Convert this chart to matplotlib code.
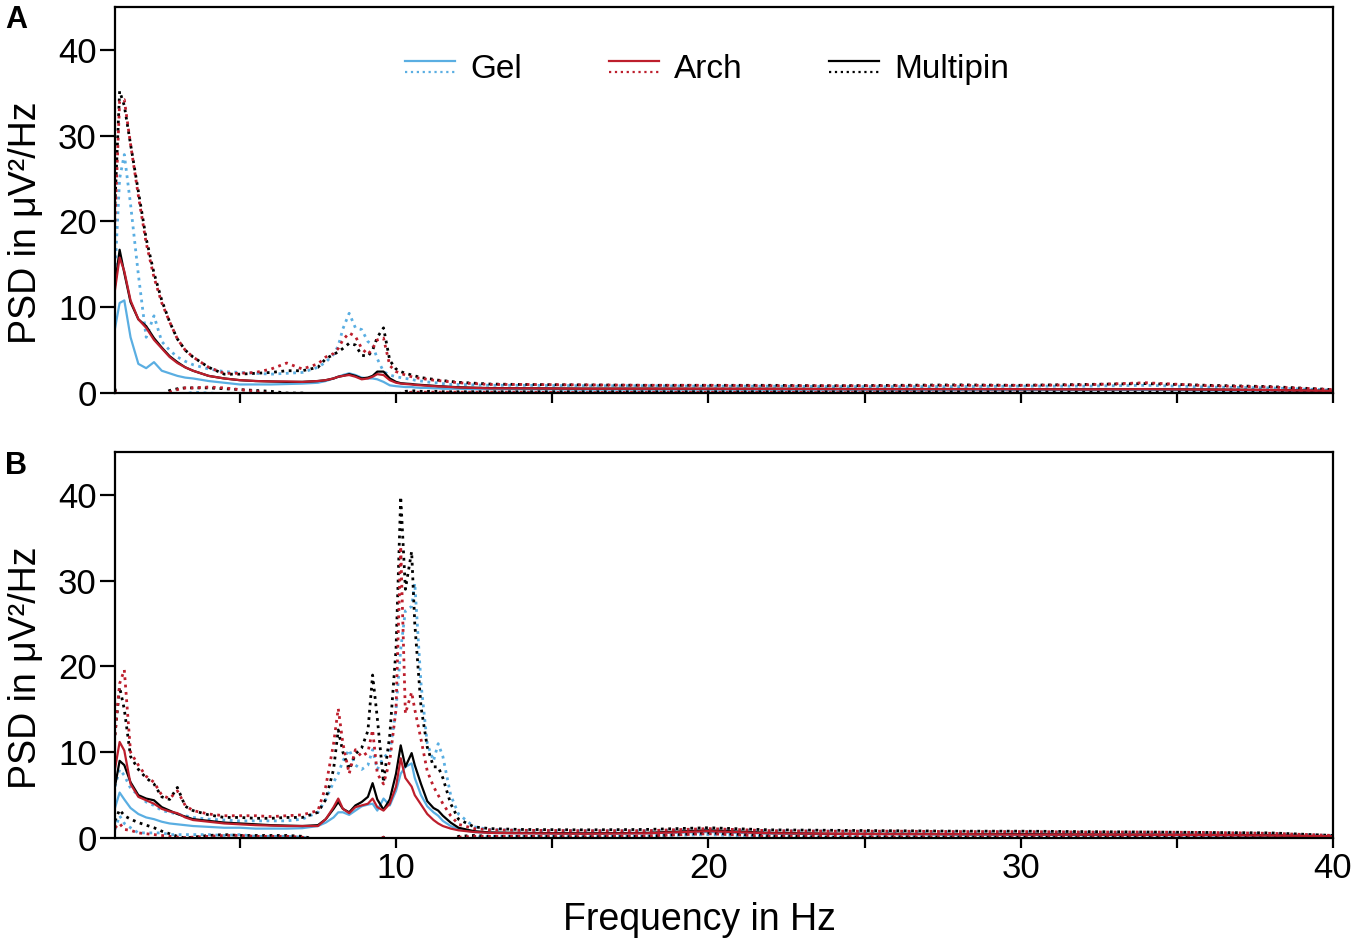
import matplotlib
matplotlib.use('Agg')
import matplotlib.pyplot as plt
from matplotlib.legend_handler import HandlerBase
from matplotlib.lines import Line2D

plt.rcParams['font.family'] = ['Liberation Sans', 'DejaVu Sans']

# frequency grid (Hz)
freq = [1.0, 1.15, 1.3, 1.5, 1.75, 2.0, 2.25, 2.5, 2.75, 3.0,
        3.25, 3.5, 4.0, 4.5, 5.0, 5.5, 6.0, 6.5, 7.0, 7.5,
        7.75, 8.0, 8.15, 8.3, 8.5, 8.7, 8.9, 9.1, 9.25, 9.4,
        9.6, 9.8, 10.0, 10.15, 10.3, 10.5, 10.6, 10.8, 11.0, 11.2,
        11.35, 11.5, 11.75, 12.0, 12.5, 13.0, 14, 16, 18, 20,
        22, 24, 26, 28, 30, 32, 34, 36, 38, 40]

# ---- panel A: mean, upper and lower band (uV^2/Hz)
gel_a_mean = [7.5, 10.5, 10.8, 6.5, 3.4, 2.9, 3.6, 2.6, 2.3, 2.0,
              1.8, 1.7, 1.4, 1.2, 1.0, 1.0, 1.0, 1.05, 1.1, 1.2,
              1.4, 1.7, 1.9, 2.1, 2.3, 2.1, 1.8, 1.7, 1.7, 1.6,
              1.3, 0.9, 0.8, 0.75, 0.7, 0.7, 0.65, 0.6, 0.6, 0.55,
              0.55, 0.5, 0.5, 0.5, 0.45, 0.45, 0.45, 0.4, 0.4, 0.4,
              0.38, 0.38, 0.35, 0.35, 0.35, 0.33, 0.35, 0.3, 0.28, 0.2]
arch_a_mean = [12.0, 15.8, 14.2, 10.8, 8.6, 7.6, 6.2, 5.2, 4.2, 3.5,
               3.0, 2.6, 2.0, 1.7, 1.5, 1.4, 1.35, 1.35, 1.3, 1.4,
               1.5, 1.7, 1.9, 2.0, 2.1, 1.9, 1.6, 1.7, 1.9, 2.2,
               2.1, 1.5, 1.2, 1.1, 1.05, 1.0, 0.95, 0.9, 0.85, 0.8,
               0.78, 0.75, 0.7, 0.65, 0.6, 0.55, 0.55, 0.5, 0.5, 0.5,
               0.48, 0.45, 0.45, 0.45, 0.45, 0.42, 0.45, 0.4, 0.35, 0.25]
multi_a_mean = [12.5, 16.7, 14.0, 10.6, 8.6, 7.8, 6.4, 5.3, 4.3, 3.6,
                3.0, 2.6, 2.0, 1.7, 1.5, 1.4, 1.35, 1.3, 1.3, 1.4,
                1.5, 1.7, 1.9, 2.0, 2.2, 2.0, 1.7, 1.8, 2.0, 2.5,
                2.5, 1.7, 1.3, 1.15, 1.1, 1.05, 1.0, 0.95, 0.9, 0.85,
                0.8, 0.78, 0.72, 0.68, 0.62, 0.58, 0.56, 0.52, 0.52, 0.5,
                0.5, 0.48, 0.47, 0.47, 0.46, 0.44, 0.46, 0.42, 0.36, 0.25]

gel_a_hi = [14.0, 25.0, 27.8, 22.0, 13.8, 6.5, 9.0, 6.0, 5.0, 4.2,
            3.7, 3.3, 2.8, 2.5, 2.4, 2.3, 2.2, 2.3, 2.4, 3.0,
            3.6, 4.5, 5.5, 7.5, 9.3, 7.6, 7.4, 6.0, 5.6, 4.0,
            2.5, 2.1, 1.9, 1.8, 1.7, 1.6, 1.5, 1.4, 1.3, 1.2,
            1.2, 1.1, 1.0, 1.0, 0.95, 0.9, 0.9, 0.85, 0.85, 0.8,
            0.8, 0.75, 0.75, 0.75, 0.8, 0.8, 0.9, 0.7, 0.6, 0.35]
arch_a_hi = [20.0, 34.0, 34.2, 29.0, 23.0, 17.5, 13.5, 10.5, 8.3, 6.3,
             5.0, 4.2, 3.0, 2.3, 2.3, 2.4, 2.8, 3.5, 2.8, 3.4,
             4.2, 4.6, 5.2, 6.2, 7.0, 6.6, 5.2, 4.5, 5.2, 6.2,
             6.4, 3.2, 2.5, 2.3, 2.1, 1.9, 1.8, 1.7, 1.6, 1.5,
             1.45, 1.4, 1.3, 1.2, 1.1, 1.0, 1.0, 0.95, 0.9, 0.9,
             0.85, 0.85, 0.85, 0.9, 0.9, 0.95, 1.2, 0.85, 0.7, 0.4]
multi_a_hi = [22.0, 35.2, 33.5, 29.0, 23.5, 18.0, 14.0, 10.8, 8.3, 6.3,
              5.0, 4.2, 3.0, 2.2, 2.2, 2.3, 2.4, 2.6, 2.6, 3.0,
              4.0, 4.5, 4.8, 5.2, 5.8, 5.6, 4.4, 4.3, 5.0, 6.5,
              7.6, 3.8, 2.8, 2.5, 2.3, 2.1, 2.0, 1.8, 1.7, 1.6,
              1.5, 1.45, 1.35, 1.25, 1.15, 1.05, 1.0, 0.95, 0.9, 0.9,
              0.9, 0.85, 0.9, 0.95, 0.9, 1.0, 1.1, 0.9, 0.75, 0.4]

gel_a_lo = [0.2, -4.0, -6.2, -9.0, -7.0, -0.7, -1.8, -0.8, -0.4, -0.2,
            -0.1, 0.1, 0.0, -0.1, -0.4, -0.3, -0.2, -0.2, -0.2, -0.6,
            -0.8, -1.1, -1.7, -3.3, -4.7, -3.4, -3.8, -2.6, -2.2, -0.8,
            0.1, -0.3, -0.3, -0.3, -0.3, -0.2, -0.2, -0.2, -0.1, -0.1,
            -0.1, -0.1, 0.05, 0.08, 0.08, 0.08, 0.08, 0.08, 0.08, 0.08,
            0.08, 0.08, 0.08, 0.08, 0.05, 0.0, -0.1, 0.05, 0.05, 0.05]
arch_a_lo = [0.3, -2.4, -5.8, -7.4, -5.8, -2.3, -1.1, -0.1, 0.1, 0.4,
             0.6, 0.6, 0.7, 0.6, 0.4, 0.2, -0.1, -0.8, -0.2, -0.6,
             -1.2, -1.2, -1.4, -2.2, -2.8, -2.8, -2.0, -1.1, -1.4, -1.8,
             -2.2, -0.2, -0.1, -0.1, 0.0, 0.1, 0.1, 0.1, 0.1, 0.1,
             0.1, 0.1, 0.1, 0.1, 0.1, 0.1, 0.1, 0.05, 0.1, 0.1,
             0.1, 0.05, 0.05, 0.0, 0.0, -0.1, -0.3, -0.05, 0.0, 0.1]
multi_a_lo = [0.5, -1.8, -5.5, -7.8, -6.3, -2.4, -1.2, -0.2, 0.3, 0.5,
              0.6, 0.6, 0.6, 0.5, 0.4, 0.3, 0.2, 0.0, 0.0, -0.2,
              -1.0, -1.1, -1.0, -1.2, -1.4, -1.6, -1.0, -0.7, -1.0, -1.5,
              -2.6, -0.4, -0.2, 0.0, 0.2, 0.25, 0.25, 0.2, 0.2, 0.2,
              0.2, 0.15, 0.15, 0.15, 0.15, 0.15, 0.15, 0.15, 0.15, 0.15,
              0.15, 0.15, 0.15, 0.15, 0.15, 0.1, 0.1, 0.15, 0.15, 0.1]

# ---- panel B
gel_b_mean = [3.5, 5.3, 4.5, 3.5, 2.8, 2.4, 2.2, 1.9, 1.7, 1.6,
              1.5, 1.4, 1.3, 1.2, 1.2, 1.1, 1.1, 1.1, 1.15, 1.4,
              1.8, 2.4, 3.0, 3.0, 2.7, 3.2, 3.7, 3.9, 4.0, 3.2,
              4.6, 3.8, 5.5, 7.5, 8.3, 8.7, 7.0, 5.0, 3.7, 3.0,
              2.6, 2.0, 1.4, 1.0, 0.7, 0.6, 0.55, 0.5, 0.55, 0.7,
              0.5, 0.45, 0.45, 0.4, 0.4, 0.35, 0.35, 0.3, 0.3, 0.2]
arch_b_mean = [8.0, 11.2, 10.2, 6.3, 4.8, 4.4, 4.0, 3.4, 3.1, 2.9,
               2.4, 2.1, 1.9, 1.7, 1.6, 1.5, 1.45, 1.4, 1.4, 1.4,
               2.2, 3.6, 4.6, 3.4, 2.9, 3.6, 3.8, 4.0, 4.6, 3.6,
               3.2, 4.0, 6.0, 9.3, 7.0, 6.0, 5.0, 3.9, 2.8, 2.1,
               1.7, 1.4, 1.1, 0.9, 0.7, 0.6, 0.55, 0.5, 0.55, 0.8,
               0.55, 0.5, 0.45, 0.45, 0.4, 0.4, 0.38, 0.35, 0.3, 0.2]
multi_b_mean = [6.0, 9.0, 8.5, 6.5, 5.0, 4.6, 4.4, 3.6, 3.2, 2.8,
                2.5, 2.2, 2.0, 1.8, 1.7, 1.6, 1.5, 1.45, 1.4, 1.5,
                2.2, 3.4, 4.2, 3.4, 3.0, 3.8, 4.2, 4.8, 6.4, 4.5,
                3.3, 4.5, 7.5, 10.8, 8.3, 9.9, 8.5, 6.3, 4.3, 3.5,
                3.2, 2.6, 1.8, 1.2, 0.8, 0.65, 0.6, 0.55, 0.6, 0.9,
                0.6, 0.5, 0.5, 0.45, 0.45, 0.42, 0.4, 0.38, 0.32, 0.2]

gel_b_hi = [6.0, 8.0, 7.3, 5.8, 5.0, 4.2, 3.8, 3.2, 3.0, 2.8,
            2.6, 2.4, 2.2, 2.1, 2.0, 2.0, 2.0, 2.0, 2.2, 3.0,
            4.5, 6.5, 7.5, 9.0, 10.3, 8.5, 8.0, 8.5, 10.3, 8.0,
            9.4, 10.0, 15.0, 22.0, 26.5, 27.0, 29.7, 18.0, 11.0, 9.0,
            11.0, 9.5, 5.0, 2.8, 1.3, 1.0, 0.9, 0.85, 0.85, 1.0,
            0.85, 0.8, 0.75, 0.7, 0.7, 0.65, 0.6, 0.55, 0.5, 0.3]
arch_b_hi = [12.0, 18.0, 19.6, 10.0, 8.5, 7.2, 6.5, 5.0, 4.6, 5.5,
             3.8, 3.2, 2.8, 2.6, 2.6, 2.6, 2.5, 2.6, 2.7, 3.2,
             6.0, 11.0, 15.1, 11.0, 7.5, 10.3, 9.5, 10.0, 12.6, 7.5,
             6.3, 9.0, 15.0, 34.0, 14.5, 17.0, 15.0, 11.5, 7.8, 6.0,
             5.0, 4.0, 2.6, 1.6, 1.1, 0.95, 0.9, 0.85, 0.85, 1.1,
             0.85, 0.8, 0.8, 0.75, 0.75, 0.7, 0.7, 0.65, 0.55, 0.3]
multi_b_hi = [12.0, 17.6, 15.0, 9.5, 8.0, 7.0, 6.3, 4.8, 4.5, 5.9,
              3.7, 3.2, 2.7, 2.4, 2.4, 2.3, 2.3, 2.4, 2.4, 3.0,
              4.5, 8.0, 12.6, 10.0, 8.0, 9.8, 10.5, 12.5, 19.0, 14.0,
              6.5, 12.0, 22.0, 39.8, 29.0, 33.4, 25.0, 15.3, 10.6, 8.3,
              8.3, 7.0, 4.0, 2.2, 1.3, 1.1, 1.0, 0.95, 1.0, 1.2,
              0.95, 0.9, 0.85, 0.8, 0.8, 0.75, 0.7, 0.65, 0.6, 0.3]

gel_b_lo = [1.0, 2.6, 1.7, 1.2, 0.6, 0.6, 0.6, 0.6, 0.4, 0.4,
            0.4, 0.4, 0.4, 0.3, 0.4, 0.2, 0.2, 0.2, 0.1, -0.2,
            -0.9, -1.7, -1.5, -3.0, -4.9, -2.1, -0.6, -0.7, -2.3, -1.6,
            -0.2, -2.4, -4.0, -7.0, -9.9, -9.6, -15.7, -8.0, -3.6, -3.0,
            -5.8, -5.5, -2.2, -0.8, 0.1, 0.2, 0.2, 0.15, 0.25, 0.4,
            0.15, 0.1, 0.15, 0.1, 0.1, 0.05, 0.1, 0.05, 0.1, 0.1]
arch_b_lo = [1.2, 1.7, 1.0, 0.9, 0.6, 0.5, 0.4, 0.3, 0.2, 0.1,
             0.05, 0.1, 0.2, 0.3, 0.3, 0.2, 0.2, 0.2, 0.1, -0.4,
             -1.6, -3.8, -5.9, -4.2, -1.7, -3.1, -1.9, -2.0, -3.4, -0.3,
             0.1, -1.0, -3.0, -15.4, -0.5, -5.0, -5.0, -3.7, -2.2, -1.8,
             -1.6, -1.2, -0.4, 0.1, 0.2, 0.2, 0.2, 0.15, 0.25, 0.5,
             0.2, 0.2, 0.1, 0.15, 0.05, 0.1, 0.05, 0.05, 0.05, 0.1]
multi_b_lo = [2.0, 3.3, 2.6, 2.2, 1.8, 1.5, 1.2, 0.8, 0.5, 0.2,
              0.0, 0.1, 0.3, 0.4, 0.3, 0.3, 0.3, 0.3, 0.2, -0.2,
              -0.3, -1.2, -4.2, -3.2, -2.0, -2.2, -2.1, -2.9, -6.2, -5.0,
              0.1, -3.0, -7.0, -18.2, -12.4, -13.6, -8.0, -2.7, -2.0, -1.3,
              -1.9, -1.8, -0.4, 0.2, 0.3, 0.2, 0.2, 0.15, 0.2, 0.6,
              0.25, 0.1, 0.15, 0.1, 0.1, 0.05, 0.1, 0.1, 0.05, 0.1]

labels = ['Gel', 'Arch', 'Multipin']
colors = {'Gel': '#5aaee2', 'Arch': '#bd1e2c', 'Multipin': '#000000'}
draw_order = ['Gel', 'Multipin', 'Arch']

panel_a = {'Gel': (gel_a_mean, gel_a_hi, gel_a_lo),
           'Arch': (arch_a_mean, arch_a_hi, arch_a_lo),
           'Multipin': (multi_a_mean, multi_a_hi, multi_a_lo)}
panel_b = {'Gel': (gel_b_mean, gel_b_hi, gel_b_lo),
           'Arch': (arch_b_mean, arch_b_hi, arch_b_lo),
           'Multipin': (multi_b_mean, multi_b_hi, multi_b_lo)}


class PairHandler(HandlerBase):
    # solid line above, dotted line below, like the original legend
    def create_artists(self, legend, orig_handle, xdescent, ydescent,
                       width, height, fontsize, trans):
        out = []
        for line, frac in zip(orig_handle, (0.75, 0.28)):
            y = frac * height - ydescent
            seg = Line2D([-xdescent, width - xdescent], [y, y],
                         color=line.get_color(), linestyle=line.get_linestyle(),
                         linewidth=1.6, transform=trans)
            out.append(seg)
        return out


fig = plt.figure(figsize=(13.57, 9.48), dpi=100)
ax_a = fig.add_axes([0.0847, 0.5854, 0.8976, 0.4072])
ax_b = fig.add_axes([0.0847, 0.1160, 0.8976, 0.4072])

handles = {}
for ax, data in [(ax_a, panel_a), (ax_b, panel_b)]:
    for name in draw_order:
        mean, hi, lo = data[name]
        c = colors[name]
        d1, = ax.plot(freq, hi, color=c, linestyle=':', linewidth=2.0)
        ax.plot(freq, lo, color=c, linestyle=':', linewidth=2.0)
        s1, = ax.plot(freq, mean, color=c, linestyle='-', linewidth=1.6)
        handles[name] = (s1, d1)

    ax.set_xlim(1, 40)
    ax.set_ylim(0, 45)
    ax.set_yticks([0, 10, 20, 30, 40])
    ax.set_xticks([10, 20, 30, 40])
    ax.set_xticks([5, 15, 25, 35], minor=True)
    ax.tick_params(axis='y', which='both', direction='out', length=11, width=1.6,
                   labelsize=25, pad=2)
    ax.tick_params(axis='x', which='both', direction='out', length=7, width=1.6,
                   labelsize=25, pad=3)
    for sp in ax.spines.values():
        sp.set_linewidth(1.6)
    ax.set_ylabel('PSD in μV²/Hz', fontsize=27)
    ax.yaxis.set_label_coords(-0.058, 0.44)

ax_a.tick_params(axis='x', labelbottom=False)
ax_b.set_xlabel('Frequency in Hz', fontsize=27)
ax_b.xaxis.set_label_coords(0.48, -0.165)

ax_a.legend([handles[n] for n in labels], labels, handler_map={tuple: PairHandler()},
            loc='center', bbox_to_anchor=(0.486, 0.837), ncol=3, frameon=False,
            fontsize=24, handlelength=1.5, handletextpad=0.45, columnspacing=2.6)

fig.text(0.004, 0.995, 'A', fontsize=22, fontweight='bold', va='top', ha='left')
fig.text(0.004, 0.524, 'B', fontsize=22, fontweight='bold', va='top', ha='left')

fig.savefig('out.png', dpi=100)
